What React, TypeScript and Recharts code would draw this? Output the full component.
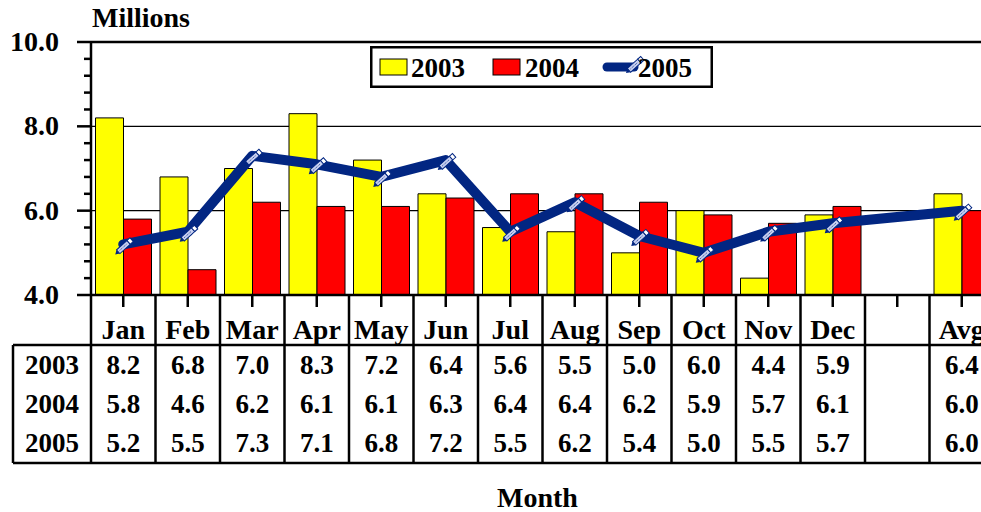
import { ComposedChart, Bar, Line, XAxis, YAxis, CartesianGrid, ReferenceLine, Legend } from 'recharts';

const months = ['Jan', 'Feb', 'Mar', 'Apr', 'May', 'Jun', 'Jul', 'Aug', 'Sep', 'Oct', 'Nov', 'Dec', '', 'Avg'];
const s2003 = [8.2, 6.8, 7.0, 8.3, 7.2, 6.4, 5.6, 5.5, 5.0, 6.0, 4.4, 5.9, null, 6.4];
const s2004 = [5.8, 4.6, 6.2, 6.1, 6.1, 6.3, 6.4, 6.4, 6.2, 5.9, 5.7, 6.1, null, 6.0];
const s2005 = [5.2, 5.5, 7.3, 7.1, 6.8, 7.2, 5.5, 6.2, 5.4, 5.0, 5.5, 5.7, null, 6.0];
const seriesNames = ['2003', '2004', '2005'];
const yTicks = [4, 4.4, 4.8, 5.2, 5.6, 6, 6.4, 6.8, 7.2, 7.6, 8, 8.4, 8.8, 9.2, 9.6, 10];

const data = months.map((m, i) => ({ month: m, y2003: s2003[i], y2004: s2004[i], y2005: s2005[i] }));
const rows = [s2003, s2004, s2005];

const FONT = '"Liberation Serif", "Times New Roman", serif';
const NAVY = '#022682';
const CHART_W = 1000;
const MARGIN = { top: 42, right: 6, bottom: 0, left: 13 };
const Y_W = 78;
const PLOT_W = CHART_W - MARGIN.left - MARGIN.right - Y_W;
const BAND = PLOT_W / months.length;
const TABLE_LEFT = MARGIN.left;
const TABLE_RIGHT = CHART_W - MARGIN.right;

const txt = { fontFamily: FONT, fontWeight: 'bold', fontSize: 27, fill: '#000' } as const;
const big = { ...txt, fontSize: 28 } as const;

function YTick({ x, y, payload }: any) {
  const v = payload.value;
  const major = Math.abs(v - Math.round(v / 2) * 2) < 1e-6;
  return (
    <g>
      <line x1={x - (major ? 14 : 7)} x2={x} y1={y} y2={y} stroke="#000" strokeWidth={2.5} />
      {major && (
        <text x={x - 32} y={y + 9} textAnchor="end" {...big}>
          {v.toFixed(1)}
        </text>
      )}
    </g>
  );
}

function XTick({ x, y, payload, index }: any) {
  const rowY = [79, 118, 157];
  return (
    <g>
      {index === 0 && (
        <g>
          <line x1={TABLE_LEFT} x2={TABLE_RIGHT} y1={y + 50} y2={y + 50} stroke="#000" strokeWidth={2.5} />
          <line x1={TABLE_LEFT} x2={TABLE_RIGHT} y1={y + 168} y2={y + 168} stroke="#000" strokeWidth={2.5} />
          <line x1={TABLE_LEFT} x2={TABLE_LEFT} y1={y + 50} y2={y + 168} stroke="#000" strokeWidth={2.5} />
          <line x1={x - BAND / 2} x2={x - BAND / 2} y1={y} y2={y + 168} stroke="#000" strokeWidth={2.5} />
          {seriesNames.map((n, r) => (
            <text key={n} x={(TABLE_LEFT + x - BAND / 2) / 2} y={y + rowY[r]} textAnchor="middle" {...txt}>
              {n}
            </text>
          ))}
        </g>
      )}
      <line x1={x} x2={x} y1={y} y2={y + 12} stroke="#000" strokeWidth={2.5} />
      <line x1={x + BAND / 2} x2={x + BAND / 2} y1={y} y2={y + 168} stroke="#000" strokeWidth={2.5} />
      <text x={x} y={y + 44} textAnchor="middle" {...big}>
        {payload.value}
      </text>
      {rows.map((r, ri) =>
        r[index] == null ? null : (
          <text key={ri} x={x} y={y + rowY[ri]} textAnchor="middle" {...txt}>
            {r[index]!.toFixed(1)}
          </text>
        )
      )}
    </g>
  );
}

function Pencil({ cx, cy }: { cx: number; cy: number }) {
  return (
    <g transform={`translate(${cx - 8},${cy + 10}) rotate(-42)`}>
      <path d="M0 0 L4 -2.5 L4 2.5 Z" fill={NAVY} />
      <rect x={4} y={-2.5} width={14} height={5} fill="#c8d0f0" stroke={NAVY} strokeWidth={1} />
      <line x1={6} x2={16} y1={0} y2={0} stroke={NAVY} strokeWidth={0.8} strokeDasharray="1 1" />
      <rect x={18} y={-2.5} width={4} height={5} fill="#fff" stroke={NAVY} strokeWidth={1} />
    </g>
  );
}

function renderDot(props: any) {
  const { cx, cy, index, value } = props;
  if (value == null || cy == null) return <g key={index} />;
  return (
    <g key={index}>
      <Pencil cx={cx} cy={cy} />
    </g>
  );
}

function LegendBox() {
  return (
    <svg width={343} height={42} style={{ display: 'block' }}>
      <rect x={1.25} y={1.25} width={340.5} height={39.5} fill="#fff" stroke="#000" strokeWidth={2.5} />
      <rect x={10} y={13} width={27} height={16} fill="#ffff00" stroke="#000" strokeWidth={1} />
      <text x={41} y={31} {...txt}>{seriesNames[0]}</text>
      <rect x={123} y={13} width={27} height={16} fill="#ff0000" stroke="#000" strokeWidth={1} />
      <text x={155} y={31} {...txt}>{seriesNames[1]}</text>
      <line x1={237} x2={264} y1={21} y2={21} stroke={NAVY} strokeWidth={9} strokeLinecap="round" />
      <Pencil cx={264} cy={17} />
      <text x={268} y={31} {...txt}>{seriesNames[2]}</text>
    </svg>
  );
}

function MillionsLabel({ viewBox }: any) {
  return (
    <text x={viewBox.x + viewBox.width + 1} y={viewBox.y - 15} {...big}>
      Millions
    </text>
  );
}

export default function App() {
  return (
    <div style={{ position: 'absolute', left: 0, top: 0, width: 981, height: 512, overflow: 'hidden', background: '#fff' }}>
      <ComposedChart width={CHART_W} height={512} data={data} margin={MARGIN} barCategoryGap="7%" barGap={0}>
        <CartesianGrid horizontal vertical={false} horizontalValues={[6, 8]} stroke="#000" strokeWidth={1.2} />
        <XAxis
          dataKey="month"
          interval={0}
          height={217}
          tickSize={0}
          tickMargin={0}
          tickLine={false}
          axisLine={{ stroke: '#000', strokeWidth: 2.5 }}
          tick={<XTick />}
          label={{ value: 'Month', position: 'insideBottom', offset: 5, dx: -5, style: { ...big } }}
        />
        <YAxis
          width={Y_W}
          domain={[4, 10]}
          ticks={yTicks}
          interval={0}
          allowDataOverflow
          tickSize={0}
          tickMargin={0}
          tickLine={false}
          axisLine={{ stroke: '#000', strokeWidth: 2.5 }}
          tick={<YTick />}
          label={<MillionsLabel />}
        />
        <ReferenceLine y={10} stroke="#000" strokeWidth={2.5} />
        <Legend
          layout="vertical"
          align="center"
          verticalAlign="middle"
          content={() => <LegendBox />}
          wrapperStyle={{ position: 'absolute', left: 370, top: 46, width: 343, height: 42 }}
        />
        <Bar dataKey="y2003" name={seriesNames[0]} fill="#ffff00" stroke="#000" strokeWidth={1} isAnimationActive={false} />
        <Bar dataKey="y2004" name={seriesNames[1]} fill="#ff0000" stroke="#000" strokeWidth={1} isAnimationActive={false} />
        <Line
          dataKey="y2005"
          name={seriesNames[2]}
          type="linear"
          stroke={NAVY}
          strokeWidth={10}
          strokeLinejoin="round"
          strokeLinecap="round"
          connectNulls
          dot={renderDot}
          activeDot={false}
          isAnimationActive={false}
        />
      </ComposedChart>
    </div>
  );
}
